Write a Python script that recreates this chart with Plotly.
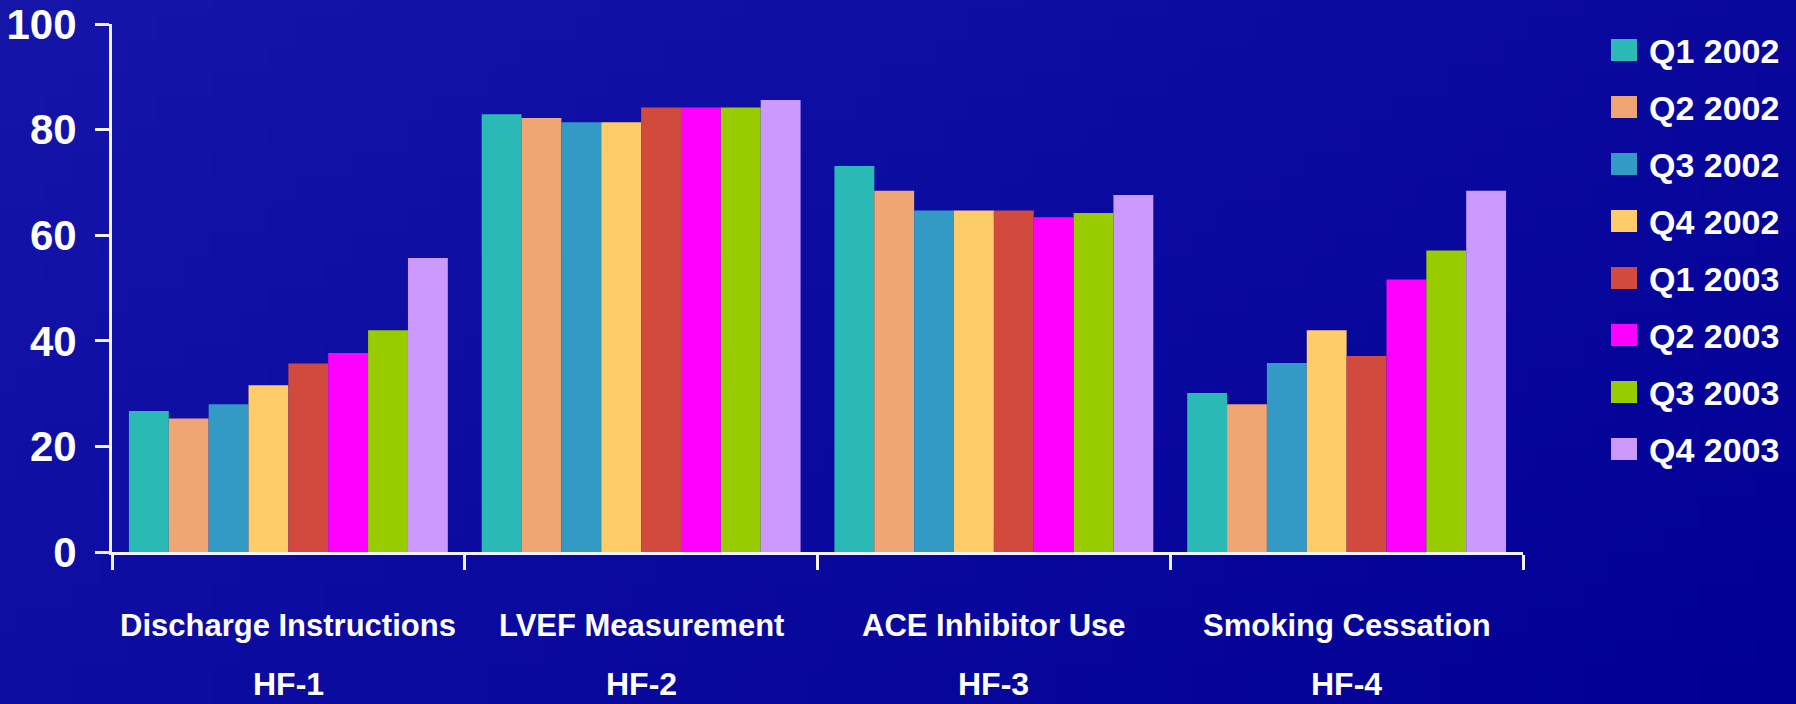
import base64, struct, zlib
import plotly.graph_objects as go

# ---------------- data ----------------
CATEGORIES = ["Discharge Instructions", "LVEF Measurement", "ACE Inhibitor Use", "Smoking Cessation"]
CODES = ["HF-1", "HF-2", "HF-3", "HF-4"]
SERIES = ["Q1 2002", "Q2 2002", "Q3 2002", "Q4 2002", "Q1 2003", "Q2 2003", "Q3 2003", "Q4 2003"]
Q1_2002 = [26.7, 82.9, 73.1, 30.1]
Q2_2002 = [25.3, 82.2, 68.4, 28.0]
Q3_2002 = [28.0, 81.4, 64.7, 35.8]
Q4_2002 = [31.6, 81.4, 64.7, 42.0]
Q1_2003 = [35.7, 84.2, 64.7, 37.1]
Q2_2003 = [37.7, 84.2, 63.4, 51.6]
Q3_2003 = [42.0, 84.2, 64.2, 57.1]
Q4_2003 = [55.7, 85.6, 67.6, 68.4]
VALUES = [Q1_2002, Q2_2002, Q3_2002, Q4_2002, Q1_2003, Q2_2003, Q3_2003, Q4_2003]
COLORS = ["#2AB9B4", "#EFA672", "#339AC6", "#FFCC6A", "#D24A3E", "#FF00FF", "#99CC00", "#CC99FF"]
Y_TICKS = [0, 20, 40, 60, 80, 100]

# ---------------- layout geometry (pixels) ----------------
W, H = 1796, 704
L, R, T, B = 112, 273, 24, 152
PW, PH = W - L - R, H - T - B


def px2x(px):
    return (px - L) / PW


def px2y(py):
    return (H - B - py) / PH


# ---------------- gradient background as a tiny PNG ----------------
def gradient_png(w=64, h=26):
    tl = (21, 21, 170)
    br = (2, 0, 148)
    raw = b""
    for j in range(h):
        row = b"\x00"
        for i in range(w):
            t = 0.62 * i / (w - 1) + 0.38 * j / (h - 1)
            c = [int(round(a + (b - a) * t)) for a, b in zip(tl, br)]
            row += bytes(c)
        raw += row

    def chunk(tag, data):
        return struct.pack(">I", len(data)) + tag + data + struct.pack(">I", zlib.crc32(tag + data) & 0xFFFFFFFF)

    png = b"\x89PNG\r\n\x1a\n"
    png += chunk(b"IHDR", struct.pack(">IIBBBBB", w, h, 8, 2, 0, 0, 0))
    png += chunk(b"IDAT", zlib.compress(raw, 9))
    png += chunk(b"IEND", b"")
    return "data:image/png;base64," + base64.b64encode(png).decode()


FONT = "Liberation Sans, Arial, sans-serif"
AXIS_COLOR = "#F2F2FF"

fig = go.Figure()
for name, vals, col in zip(SERIES, VALUES, COLORS):
    fig.add_trace(go.Bar(x=CATEGORIES, y=vals, name=name, marker=dict(color=col, line=dict(width=0)),
                         showlegend=False))

fig.update_layout(
    width=W, height=H,
    margin=dict(l=L, r=R, t=T, b=B, pad=0, autoexpand=False),
    barmode="group", bargap=0.096, bargroupgap=0,
    paper_bgcolor="#0A0A9E", plot_bgcolor="rgba(0,0,0,0)",
    showlegend=False,
    images=[dict(source=gradient_png(), xref="paper", yref="paper",
                 x=px2x(0), y=px2y(0), sizex=W / PW, sizey=H / PH,
                 xanchor="left", yanchor="top", sizing="stretch", layer="below")],
)

fig.update_xaxes(
    range=[-0.5, len(CATEGORIES) - 0.5], automargin=False,
    showgrid=False, zeroline=False, showline=True, linecolor=AXIS_COLOR, linewidth=3,
    ticks="outside", tickson="boundaries", ticklen=15, tickwidth=3, tickcolor=AXIS_COLOR,
    showticklabels=False, fixedrange=True,
)
fig.update_yaxes(
    range=[0, 100], tickvals=Y_TICKS, ticktext=[str(v) for v in Y_TICKS], automargin=False,
    showgrid=False, zeroline=False, showline=True, linecolor=AXIS_COLOR, linewidth=3,
    ticks="outside", ticklen=14, tickwidth=3, tickcolor=AXIS_COLOR,
    ticklabelstandoff=10, ticklabeloverflow="allow",
    tickfont=dict(family=FONT, size=42, color="white", weight="bold"),
)

# category labels (two lines)
for cat, code in zip(CATEGORIES, CODES):
    fig.add_annotation(x=cat, xref="x", y=px2y(625), yref="paper", text=cat, showarrow=False,
                       xanchor="center", yanchor="middle",
                       font=dict(family=FONT, size=31, color="white", weight="bold"))
    fig.add_annotation(x=cat, xref="x", y=px2y(704), yref="paper", text=code, showarrow=False,
                       xanchor="center", yanchor="bottom",
                       font=dict(family=FONT, size=32, color="white", weight="bold"))

# legend (swatches + labels)
for i, (name, col) in enumerate(zip(SERIES, COLORS)):
    cy = 50 + 57 * i
    fig.add_shape(type="rect", xref="paper", yref="paper",
                  x0=px2x(1611), x1=px2x(1637), y0=px2y(cy - 11), y1=px2y(cy + 11),
                  fillcolor=col, line=dict(width=0))
    fig.add_annotation(x=px2x(1647), xref="paper", y=px2y(cy + 1), yref="paper", text=name,
                       showarrow=False, xanchor="left", yanchor="middle",
                       font=dict(family=FONT, size=34, color="white", weight="bold"))

fig.write_html("out.html")
